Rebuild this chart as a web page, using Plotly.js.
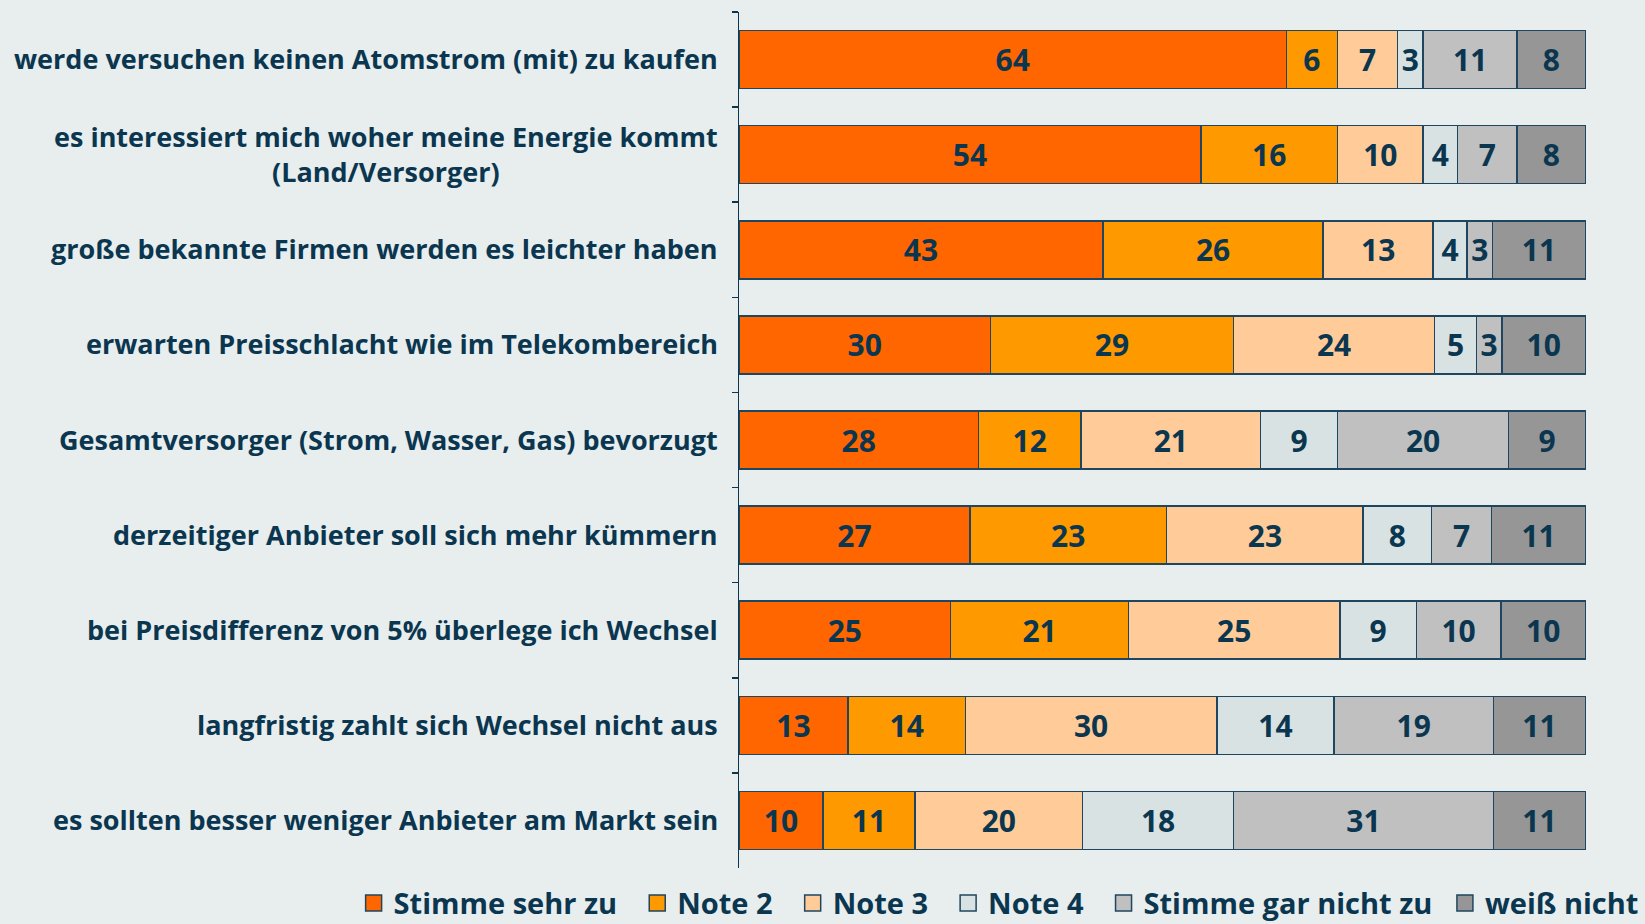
<!DOCTYPE html>
<html>
<head>
<meta charset="utf-8">
<script src="https://cdn.plot.ly/plotly-3.0.1.min.js"></script>
<style>
  html, body { margin: 0; padding: 0; background: #E8EDED; }
  #chart { width: 1645px; height: 924px; }
</style>
</head>
<body>
<div id="chart"></div>
<script>
const categories = [
  "werde versuchen keinen Atomstrom (mit) zu kaufen",
  "es interessiert mich woher meine Energie kommt<br>(Land/Versorger)",
  "große bekannte Firmen werden es leichter haben",
  "erwarten Preisschlacht wie im Telekombereich",
  "Gesamtversorger (Strom, Wasser, Gas) bevorzugt",
  "derzeitiger Anbieter soll sich mehr kümmern",
  "bei Preisdifferenz von 5% überlege ich Wechsel",
  "langfristig zahlt sich Wechsel nicht aus",
  "es sollten besser weniger Anbieter am Markt sein"
];
const seriesNames = ["Stimme sehr zu", "Note 2", "Note 3", "Note 4", "Stimme gar nicht zu", "weiß nicht"];
const stimmeSehrZu    = [64, 54, 43, 30, 28, 27, 25, 13, 10];
const note2           = [6, 16, 26, 29, 12, 23, 21, 14, 11];
const note3           = [7, 10, 13, 24, 21, 23, 25, 30, 20];
const note4           = [3, 4, 4, 5, 9, 8, 9, 14, 18];
const stimmeGarNicht  = [11, 7, 3, 3, 20, 7, 10, 19, 31];
const weissNicht      = [8, 8, 11, 10, 9, 11, 10, 11, 11];

const values = [stimmeSehrZu, note2, note3, note4, stimmeGarNicht, weissNicht];
const colors = ["#FF6600", "#FF9900", "#FFCC99", "#D9E2E2", "#C0C0C0", "#969696"];
const navy = "#0B3650";
const edge = "#1E4660";
const fam = "Open Sans, DejaVu Sans, sans-serif";
const legendPads = ["\u00a0\u00a0", "\u00a0\u00a0", "\u00a0\u00a0", "\u00a0\u00a0", "\u00a0", ""];

const traces = [];
values.forEach((v, i) => {
  traces.push({
    type: "bar",
    orientation: "h",
    name: seriesNames[i],
    y: categories,
    x: v,
    text: v.map(String),
    textposition: "inside",
    insidetextanchor: "middle",
    textangle: 0,
    constraintext: "none",
    textfont: { family: fam, size: 30, color: navy, weight: 700 },
    marker: { color: colors[i], line: { color: edge, width: 1.5 } },
    showlegend: false,
    hoverinfo: "skip",
    cliponaxis: false
  });
});
values.forEach((v, i) => {
  traces.push({
    type: "scatter",
    mode: "markers",
    name: seriesNames[i] + legendPads[i],
    x: [null],
    y: [null],
    marker: { symbol: "square", size: 17, color: colors[i], line: { color: edge, width: 1.5 } },
    showlegend: true,
    hoverinfo: "skip"
  });
});

const annotations = categories.map(c => ({
  xref: "paper", yref: "y",
  x: -0.022, y: c,
  xanchor: "right", yanchor: "middle",
  yshift: 1,
  align: "center",
  text: c,
  showarrow: false,
  font: { family: fam, size: 27, color: navy, weight: 700 }
}));

const layout = {
  width: 1645, height: 924,
  paper_bgcolor: "#E8EDED",
  plot_bgcolor: "#E8EDED",
  margin: { l: 739, r: 59, t: 12, b: 56, autoexpand: false },
  barmode: "stack",
  barnorm: "percent",
  bargap: 0.39,
  showlegend: true,
  legend: {
    orientation: "h",
    x: -0.455, xanchor: "left",
    y: -0.041, yanchor: "middle",
    font: { family: fam, size: 29, color: navy, weight: 700 },
    itemwidth: 30,
    bgcolor: "rgba(0,0,0,0)",
    traceorder: "normal"
  },
  xaxis: {
    range: [0, 100.05],
    visible: false,
    fixedrange: true
  },
  yaxis: {
    type: "category",
    autorange: "reversed",
    showticklabels: false,
    tickson: "boundaries",
    ticks: "outside",
    ticklen: 6,
    tickwidth: 1.5,
    tickcolor: navy,
    showline: true,
    linecolor: navy,
    linewidth: 1.5,
    showgrid: false,
    zeroline: false,
    fixedrange: true
  },
  annotations: annotations
};

Plotly.newPlot("chart", traces, layout, { displayModeBar: false, staticPlot: true });
</script>
</body>
</html>
